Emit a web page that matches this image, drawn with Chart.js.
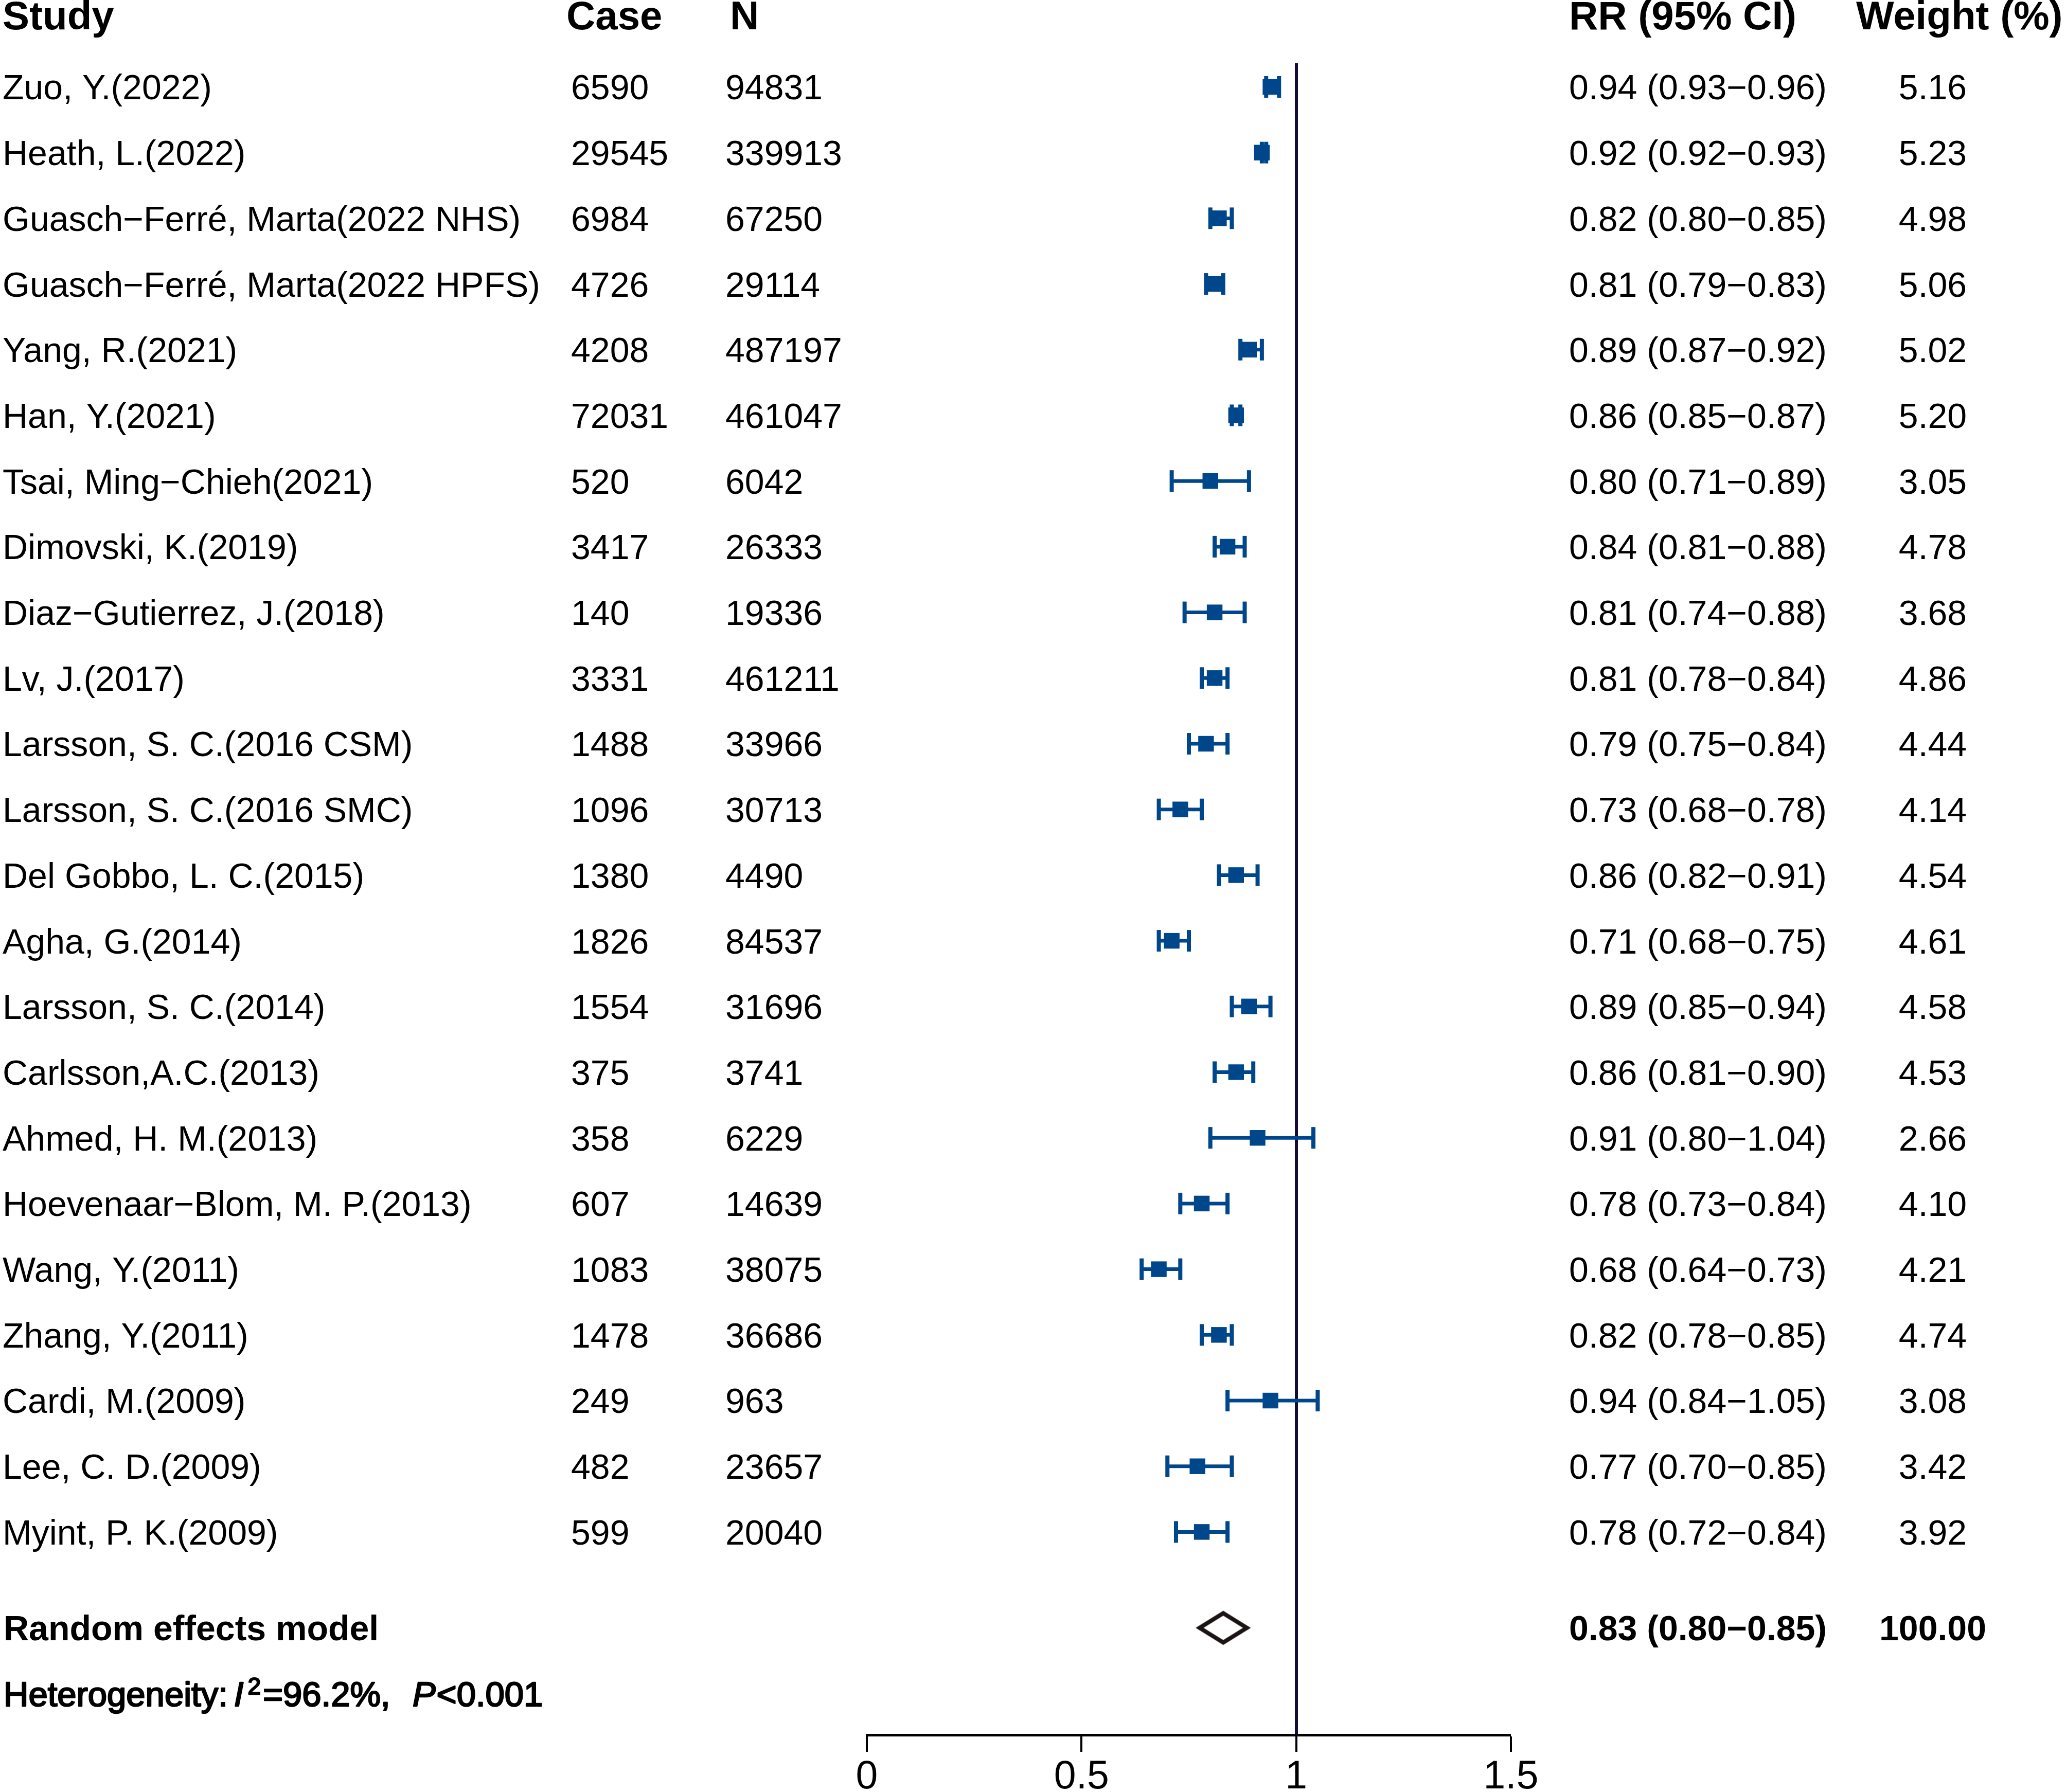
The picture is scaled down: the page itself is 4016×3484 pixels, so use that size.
<!DOCTYPE html>
<html>
<head>
<meta charset="utf-8">
<script src="https://cdn.jsdelivr.net/npm/chart.js@4.4.1/dist/chart.umd.min.js"></script>
<style>
  html, body { margin: 0; padding: 0; background: #ffffff; }
  #wrap { width: 4016px; height: 3484px; position: relative; }
</style>
</head>
<body>
<div id="wrap"><canvas id="c"></canvas></div>
<script>
// ---------------- DATA ----------------
const studies = [
  "Zuo, Y.(2022)", "Heath, L.(2022)", "Guasch\u2212Ferré, Marta(2022 NHS)", "Guasch\u2212Ferré, Marta(2022 HPFS)",
  "Yang, R.(2021)", "Han, Y.(2021)", "Tsai, Ming\u2212Chieh(2021)", "Dimovski, K.(2019)",
  "Diaz\u2212Gutierrez, J.(2018)", "Lv, J.(2017)", "Larsson, S. C.(2016 CSM)", "Larsson, S. C.(2016 SMC)",
  "Del Gobbo, L. C.(2015)", "Agha, G.(2014)", "Larsson, S. C.(2014)", "Carlsson,A.C.(2013)",
  "Ahmed, H. M.(2013)", "Hoevenaar\u2212Blom, M. P.(2013)", "Wang, Y.(2011)", "Zhang, Y.(2011)",
  "Cardi, M.(2009)", "Lee, C. D.(2009)", "Myint, P. K.(2009)"
];
const cases = ["6590","29545","6984","4726","4208","72031","520","3417","140","3331","1488","1096","1380","1826","1554","375","358","607","1083","1478","249","482","599"];
const totals = ["94831","339913","67250","29114","487197","461047","6042","26333","19336","461211","33966","30713","4490","84537","31696","3741","6229","14639","38075","36686","963","23657","20040"];
const rr    = [0.94,0.92,0.82,0.81,0.89,0.86,0.80,0.84,0.81,0.81,0.79,0.73,0.86,0.71,0.89,0.86,0.91,0.78,0.68,0.82,0.94,0.77,0.78];
const lower = [0.93,0.92,0.80,0.79,0.87,0.85,0.71,0.81,0.74,0.78,0.75,0.68,0.82,0.68,0.85,0.81,0.80,0.73,0.64,0.78,0.84,0.70,0.72];
const upper = [0.96,0.93,0.85,0.83,0.92,0.87,0.89,0.88,0.88,0.84,0.84,0.78,0.91,0.75,0.94,0.90,1.04,0.84,0.73,0.85,1.05,0.85,0.84];
const weights = ["5.16","5.23","4.98","5.06","5.02","5.20","3.05","4.78","3.68","4.86","4.44","4.14","4.54","4.61","4.58","4.53","2.66","4.10","4.21","4.74","3.08","3.42","3.92"];
const pooledLabel = "Random effects model";
const pooledRR = 0.83, pooledLower = 0.80, pooledUpper = 0.85;
const pooledWeight = "100.00";
const heteroI2 = "96.2%";
const heteroP = "0.001";
const headers = ["Study", "Case", "N", "RR (95% CI)", "Weight (%)"];
const xTicks = [0, 0.5, 1, 1.5];

// ---------------- STYLE ----------------
const FONT = "'Liberation Sans', Arial, Helvetica, sans-serif";
const BLUE = "#00468B";
const REF = "#150B35";
const rowOf = i => i;                 // study rows
const pooledRow = studies.length + 0.46;
const heteroRow = studies.length + 1.46;
const headerRow = -1.1;
const fmt = v => v.toFixed(2);

// whisker segments (gaps between studies)
const whisk = [];
studies.forEach((s, i) => {
  whisk.push({ x: lower[i], y: rowOf(i) });
  whisk.push({ x: upper[i], y: rowOf(i) });
  whisk.push({ x: null, y: rowOf(i) });
});

// diamond style image for pooled estimate
function diamondImage(w, h, lw) {
  const cv = document.createElement('canvas');
  cv.width = w + lw * 2; cv.height = h + lw * 2;
  const g = cv.getContext('2d');
  const cx = cv.width / 2, cy = cv.height / 2;
  g.beginPath();
  g.moveTo(cx - w / 2, cy); g.lineTo(cx, cy - h / 2);
  g.lineTo(cx + w / 2, cy); g.lineTo(cx, cy + h / 2); g.closePath();
  g.lineWidth = lw; g.strokeStyle = "#1c1414"; g.lineJoin = 'miter';
  g.stroke();
  return cv;
}

const textPlugin = {
  id: 'forestText',
  afterDraw(chart) {
    const ctx = chart.ctx;
    const ys = chart.scales.y;
    const colStudy = 5, colCase = 1110, colN = 1410, colRR = 3050, colW = 3757;
    const hdrX = [5, 1101, 1419, 3050, 3608];
    ctx.save();
    ctx.fillStyle = '#000';
    ctx.textBaseline = 'alphabetic';
    // headers
    const hs = 78;
    ctx.font = `bold ${hs}px ${FONT}`;
    ctx.textAlign = 'left';
    const hy = ys.getPixelForValue(headerRow) + hs * 0.36;
    headers.forEach((h, k) => ctx.fillText(h, hdrX[k], hy));
    // rows
    const fs = 68;
    ctx.font = `${fs}px ${FONT}`;
    studies.forEach((s, i) => {
      const y = ys.getPixelForValue(rowOf(i)) + fs * 0.36;
      ctx.textAlign = 'left';
      ctx.fillText(s, colStudy, y);
      ctx.fillText(cases[i], colCase, y);
      ctx.fillText(totals[i], colN, y);
      ctx.fillText(`${fmt(rr[i])} (${fmt(lower[i])}\u2212${fmt(upper[i])})`, colRR, y);
      ctx.textAlign = 'center';
      ctx.fillText(weights[i], colW, y);
    });
    // pooled
    ctx.font = `bold ${fs}px ${FONT}`;
    const py = ys.getPixelForValue(pooledRow) + fs * 0.36;
    ctx.textAlign = 'left';
    ctx.fillText(pooledLabel, 7, py);
    ctx.fillText(`${fmt(pooledRR)} (${fmt(pooledLower)}\u2212${fmt(pooledUpper)})`, colRR, py);
    ctx.textAlign = 'center';
    ctx.fillText(pooledWeight, colW, py);
    // heterogeneity (heavy regular weight)
    const hz = 67;
    const hy2 = ys.getPixelForValue(heteroRow) + hz * 0.36;
    ctx.textAlign = 'left';
    ctx.strokeStyle = '#000';
    ctx.lineWidth = 2.5;
    ctx.lineJoin = 'round';
    let x = 7;
    const put = (t, font, dy = 0) => {
      ctx.font = font;
      ctx.fillText(t, x, hy2 + dy);
      ctx.strokeText(t, x, hy2 + dy);
      x += ctx.measureText(t).width;
    };
    put("Heterogeneity:", `${hz}px ${FONT}`);
    x += 12;
    put("I", `italic ${hz}px ${FONT}`);
    x += 8;
    put("2", `${Math.round(hz * 0.68)}px ${FONT}`, -hz * 0.34);
    x += 4;
    put("=" + heteroI2 + ",  ", `${hz}px ${FONT}`);
    x += 6;
    put("P", `italic ${hz}px ${FONT}`);
    x += 2;
    put("<" + heteroP, `${hz}px ${FONT}`);
    ctx.restore();
  }
};

Chart.defaults.font.family = FONT;
Chart.defaults.color = '#000';

new Chart(document.getElementById('c'), {
  data: {
    datasets: [
      {
        type: 'line',
        label: 'CI',
        data: whisk,
        borderColor: BLUE,
        borderWidth: 7,
        spanGaps: false,
        pointStyle: 'line',
        rotation: 90,
        pointRadius: 21,
        pointBorderWidth: 8,
        pointBorderColor: BLUE,
        pointBackgroundColor: BLUE,
        order: 2
      },
      {
        type: 'scatter',
        label: 'RR',
        data: rr.map((v, i) => ({ x: v, y: rowOf(i) })),
        pointStyle: 'rect',
        pointRadius: 21.5,
        backgroundColor: BLUE,
        borderWidth: 0,
        order: 1
      },
      {
        type: 'scatter',
        label: 'Pooled',
        data: [{ x: pooledRR, y: pooledRow }],
        pointStyle: diamondImage(92, 57, 8),
        pointRadius: 10,
        order: 0
      }
    ]
  },
  options: {
    responsive: true,
    maintainAspectRatio: false,
    animation: false,
    events: [],
    layout: { padding: { top: 123, left: 1685, right: 1079, bottom: 0 } },
    plugins: { legend: { display: false }, tooltip: { enabled: false } },
    scales: {
      x: {
        type: 'linear',
        min: xTicks[0],
        max: xTicks[xTicks.length - 1],
        position: 'bottom',
        z: 1,
        afterBuildTicks: s => { s.ticks = xTicks.map(v => ({ value: v })); },
        afterFit: s => { s.height = 111; },
        ticks: {
          font: { size: 77, family: FONT },
          color: '#000',
          padding: 4,
          maxRotation: 0,
          callback: v => String(v)
        },
        grid: {
          drawOnChartArea: true,
          color: c => (c.tick && c.tick.value === 1) ? REF : 'rgba(0,0,0,0)',
          lineWidth: c => (c.tick && c.tick.value === 1) ? 6 : 0,
          tickColor: '#000',
          tickWidth: 4,
          tickLength: 33
        },
        border: { display: true, color: '#000', width: 5 }
      },
      y: {
        type: 'linear',
        display: false,
        reverse: true,
        min: -0.36,
        max: 25.09
      }
    }
  },
  plugins: [textPlugin]
});
</script>
</body>
</html>
